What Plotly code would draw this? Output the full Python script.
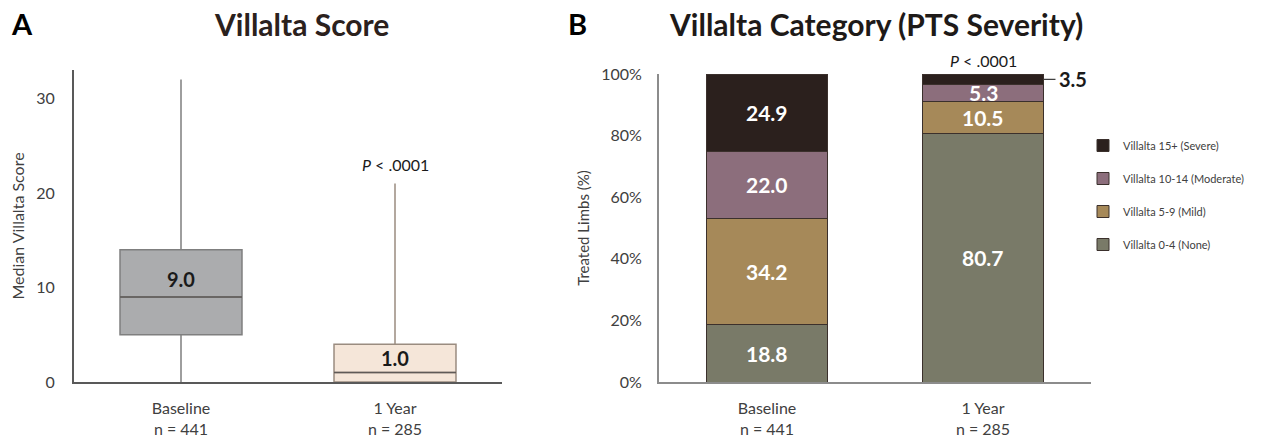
import plotly.graph_objects as go

# ---------------- data ----------------
box_groups = ["Baseline", "1 Year"]
box_n = [441, 285]
box_min = [0, 0]
box_q1 = [5, 0]
box_median = [9, 1]
box_q3 = [14, 4]
box_max = [32, 21]

bar_groups = ["Baseline", "1 Year"]
bar_n = [441, 285]
cat_names = ["Villalta 0-4 (None)", "Villalta 5-9 (Mild)",
             "Villalta 10-14 (Moderate)", "Villalta 15+ (Severe)"]
pct_none = [18.8, 80.7]
pct_mild = [34.2, 10.5]
pct_moderate = [22.0, 5.3]
pct_severe = [24.9, 3.5]
pct_ticks = [0, 20, 40, 60, 80, 100]

p_text = "<i>P</i> < .0001"

# ---------------- layout helpers (page has an 8px body margin) ----------------
OX, OY = 8, 8
W, H = 1269 - OX, 437 - OY


def px(x):
    return (x - OX) / W


def py(y):
    return 1 - (y - OY) / H


FONT = "Lato"
TXT = "#404040"
box_fill = ["#abacae", "#f5e6d9"]
box_line = ["#7f7f7f", "#9a8c80"]
cat_colors = ["#797a68", "#a68959", "#8c6e7c", "#2b201d"]

fig = go.Figure()

xa_dom = [px(74), px(502)]
xb_dom = [px(659), px(1091)]
ya_dom = [py(382), py(70)]
yb_dom = [py(382), py(74)]

# ---- Panel A: box plots ----
for i, g in enumerate(box_groups):
    fig.add_trace(go.Box(
        x=[i], q1=[box_q1[i]], median=[box_median[i]], q3=[box_q3[i]],
        lowerfence=[box_min[i]], upperfence=[box_max[i]],
        width=0.57, fillcolor=box_fill[i],
        line=dict(color=box_line[i], width=1.5),
        whiskerwidth=0, boxpoints=False, showlegend=False,
        xaxis="x", yaxis="y", hoverinfo="skip"))
    fig.add_trace(go.Scatter(
        x=[i - 0.285, i + 0.285], y=[box_median[i], box_median[i]],
        mode="lines", line=dict(color="#5f5a57", width=1.5),
        showlegend=False, xaxis="x", yaxis="y", hoverinfo="skip"))
    fig.add_annotation(
        x=i, y=box_median[i] + (1.9 if i == 0 else 1.5), xref="x", yref="y",
        text=f"<b>{box_median[i]:.1f}</b>", showarrow=False,
        font=dict(family=FONT, size=20, color="#1a1a1a"))

fig.add_annotation(x=1, y=box_max[1], xref="x", yref="y", yshift=19,
                   text=p_text, showarrow=False,
                   font=dict(family=FONT, size=16, color="#1a1a1a"))

# ---- Panel B: stacked bars ----
series = [pct_none, pct_mild, pct_moderate, pct_severe]
for k, vals in enumerate(series):
    fig.add_trace(go.Bar(
        x=[0, 1], y=vals, name=cat_names[k], width=0.56,
        marker=dict(color=cat_colors[k], line=dict(color="#3b302c", width=1)),
        xaxis="x2", yaxis="y2", legendgroup=cat_names[k],
        legendrank=len(series) - k, hoverinfo="skip"))

for j in range(len(bar_groups)):
    cum = 0
    for k, vals in enumerate(series):
        v = vals[j]
        mid = cum + v / 2
        cum += v
        if v < 5:
            fig.add_annotation(
                x=j + 0.28, y=mid, xref="x2", yref="y2", ax=12, ay=0,
                text=f"<b>{v:.1f}</b>", showarrow=True, arrowhead=0,
                arrowwidth=1.2, arrowcolor="#404040", xanchor="left",
                borderpad=3,
                font=dict(family=FONT, size=20, color="#1a1a1a"))
        else:
            fig.add_annotation(
                x=j, y=mid, xref="x2", yref="y2", text=f"<b>{v:.1f}</b>",
                showarrow=False,
                font=dict(family=FONT, size=21, color="white"))

fig.add_annotation(x=1, y=100, xref="x2", yref="y2", yshift=14,
                   text=p_text, showarrow=False,
                   font=dict(family=FONT, size=16, color="#1a1a1a"))

# ---- titles and panel letters ----
def head(x, y, text, size, color):
    fig.add_annotation(x=px(x), y=py(y), xref="paper", yref="paper",
                       xanchor="center", yanchor="middle",
                       text=text, showarrow=False,
                       font=dict(family=FONT, size=size, color=color))


head(301, 24, "<b>Villalta Score</b>", 30, "#2b211d")
head(876, 24, "<b>Villalta Category (PTS Severity)</b>", 30, "#1e1a18")
head(22, 24, "<b>A</b>", 29, "black")
head(577, 24, "<b>B</b>", 29, "black")

tick_font = dict(family=FONT, size=16, color=TXT)
box_ticks = [f"{g}<br>n = {n}" for g, n in zip(box_groups, box_n)]
bar_ticks = [f"{g}<br>n = {n}" for g, n in zip(bar_groups, bar_n)]

fig.update_layout(
    width=W, height=H, margin=dict(l=0, r=0, t=0, b=0, autoexpand=False),
    paper_bgcolor="white", plot_bgcolor="white",
    font=dict(family=FONT, color=TXT),
    barmode="stack",
    xaxis=dict(domain=xa_dom, range=[-0.5, 1.5], tickvals=[0, 1],
               ticktext=box_ticks, showline=True, linecolor="#595959",
               linewidth=2, showgrid=False, zeroline=False, ticks="",
               tickfont=tick_font, ticklabelstandoff=11, anchor="y",
               automargin=False),
    yaxis=dict(domain=ya_dom, range=[0, 33], tickvals=[0, 10, 20, 30],
               showline=True, linecolor="#595959", linewidth=2,
               showgrid=False, zeroline=False, ticks="", tickfont=tick_font,
               ticklabelstandoff=14, anchor="x", automargin=False,
               title=dict(text="Median Villalta Score",
                          font=dict(family=FONT, size=16, color=TXT),
                          standoff=10)),
    xaxis2=dict(domain=xb_dom, range=[-0.5, 1.5], tickvals=[0, 1],
                ticktext=bar_ticks, showline=True, linecolor="#8c8c8c",
                linewidth=2, showgrid=False, zeroline=False, ticks="",
                tickfont=tick_font, ticklabelstandoff=11, anchor="y2",
                automargin=False),
    yaxis2=dict(domain=yb_dom, range=[0, 100], tickvals=pct_ticks,
                ticktext=[f"{t}%" for t in pct_ticks],
                showline=True, linecolor="#8c8c8c",
                linewidth=2, showgrid=False, zeroline=False, ticks="",
                tickfont=tick_font, ticklabelstandoff=12, anchor="x2",
                automargin=False,
                title=dict(text="Treated Limbs (%)",
                           font=dict(family=FONT, size=15, color=TXT),
                           standoff=8)),
    legend=dict(x=px(1083), y=py(131), xanchor="left", yanchor="top",
                traceorder="grouped", tracegroupgap=14,
                font=dict(family=FONT, size=11, color=TXT),
                itemwidth=30, bgcolor="rgba(0,0,0,0)"),
)

fig.write_html("out.html")
